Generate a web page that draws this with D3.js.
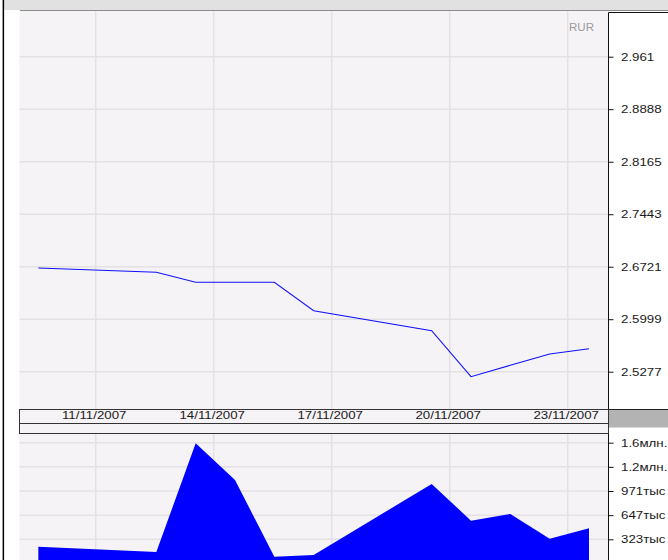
<!DOCTYPE html>
<html>
<head>
<meta charset="utf-8">
<script src="https://cdn.jsdelivr.net/npm/d3@7"></script>
<style>
html,body{margin:0;padding:0;background:#fff;}
svg{display:block;}
</style>
</head>
<body>
<script>
// ---- data ----
const dates = ["2007-11-09T13:00","2007-11-12T13:00","2007-11-13T13:00","2007-11-14T13:00","2007-11-15T13:00","2007-11-16T13:00","2007-11-19T13:00","2007-11-20T13:00","2007-11-21T13:00","2007-11-22T13:00","2007-11-23T13:00"];
const prices = [2.6703, 2.6644, 2.6507, 2.6507, 2.6507, 2.6116, 2.5841, 2.5208, 2.5365, 2.5520, 2.5593];
const volumes = [224000, 153000, 1610000, 1118000, 90000, 113000, 1065000, 573000, 663000, 332000, 471000];
const priceTicks = [2.5277, 2.5999, 2.6721, 2.7443, 2.8165, 2.8888, 2.961];
const priceTickLabels = ["2.5277", "2.5999", "2.6721", "2.7443", "2.8165", "2.8888", "2.961"];
const volumeTicks = [323500, 647000, 970500, 1294000, 1617500];
const volumeTickLabels = ["323тыс", "647тыс", "971тыс", "1.2млн.", "1.6млн."];
const dateTicks = ["2007-11-11", "2007-11-14", "2007-11-17", "2007-11-20", "2007-11-23"];
const currency = "RUR";

// ---- layout ----
const W = 668, H = 560;
const L = 19.5, R = 608.5;
const pTop = 10.5, pBot = 409.5;
const dBandMid = 423.5, dBandBot = 433.5;
const vTop = 433.5, vBot = 560;
const BG = "#f6f3f6", GRID = "#e4e1e4";
const FONT = "'Liberation Sans', Arial, sans-serif";
const SX = 1.33;

const parseT = d3.timeParse("%Y-%m-%dT%H:%M");
const parseD = d3.timeParse("%Y-%m-%d");
const data = dates.map((d, i) => ({t: parseT(d), p: prices[i], v: volumes[i]}));
const tickDates = dateTicks.map(parseD);

const svg = d3.select("body").append("svg").attr("width", W).attr("height", H);

// scales
const x = d3.scaleTime().domain([tickDates[0], tickDates[tickDates.length - 1]]).range([95.7, 567.7]);
const y = d3.scaleLinear().domain([priceTicks[0], priceTicks[priceTicks.length - 1]]).range([371.7, 56.7]);
const yv = d3.scaleLinear().domain([volumeTicks[0], volumeTicks[volumeTicks.length - 1]]).range([539.3, 442.7]);

// backgrounds
svg.append("rect").attr("x", 0).attr("y", 0).attr("width", W).attr("height", H).attr("fill", "#fff");
svg.append("rect").attr("x", 4).attr("y", 0).attr("width", W - 4).attr("height", 10).attr("fill", "#e1e1e1");
svg.append("rect").attr("x", L).attr("y", pTop).attr("width", R - L).attr("height", pBot - pTop).attr("fill", BG);
svg.append("rect").attr("x", L).attr("y", pBot).attr("width", R - L).attr("height", dBandBot - pBot).attr("fill", BG);
svg.append("rect").attr("x", L).attr("y", vTop).attr("width", R - L).attr("height", vBot - vTop).attr("fill", BG);

// clips
const defs = svg.append("defs");
defs.append("clipPath").attr("id", "cp").append("rect").attr("x", L).attr("y", pTop).attr("width", R - L).attr("height", pBot - pTop);
defs.append("clipPath").attr("id", "cv").append("rect").attr("x", L).attr("y", vTop).attr("width", R - L).attr("height", vBot - vTop);

// price grid
const gp = svg.append("g").attr("clip-path", "url(#cp)");
gp.selectAll("line.h").data(priceTicks).join("line")
  .attr("x1", L).attr("x2", R).attr("y1", d => y(d)).attr("y2", d => y(d))
  .attr("stroke", GRID).attr("stroke-width", 1.5);
gp.selectAll("line.v").data(tickDates).join("line")
  .attr("x1", d => x(d)).attr("x2", d => x(d)).attr("y1", pTop).attr("y2", pBot)
  .attr("stroke", GRID).attr("stroke-width", 1.5);

// price line
gp.append("path").datum(data)
  .attr("d", d3.line().x(d => x(d.t)).y(d => y(d.p)))
  .attr("fill", "none").attr("stroke", "#1010ff").attr("stroke-width", 1.1);

// currency
svg.append("text").attr("transform", "translate(594,31) scale(1.1,1)")
  .attr("text-anchor", "end").attr("font-family", FONT).attr("font-size", 10.5)
  .attr("fill", "#9a9a9a").text(currency);

// volume grid + area
const gv = svg.append("g").attr("clip-path", "url(#cv)");
gv.selectAll("line.h").data(volumeTicks).join("line")
  .attr("x1", L).attr("x2", R).attr("y1", d => yv(d)).attr("y2", d => yv(d))
  .attr("stroke", GRID).attr("stroke-width", 1.5);
gv.selectAll("line.v").data(tickDates).join("line")
  .attr("x1", d => x(d)).attr("x2", d => x(d)).attr("y1", vTop).attr("y2", vBot)
  .attr("stroke", GRID).attr("stroke-width", 1.5);
gv.append("path").datum(data)
  .attr("d", d3.area().x(d => x(d.t)).y0(yv(0)).y1(d => yv(d.v)))
  .attr("fill", "#0000ff").attr("stroke", "none");

// top gray line
svg.append("line").attr("x1", 20).attr("x2", W).attr("y1", 10.5).attr("y2", 10.5)
  .attr("stroke", "#8c8c8c").attr("stroke-width", 1);

// right panel
svg.append("rect").attr("x", R).attr("y", 12.5).attr("width", W - R).attr("height", H - 12.5).attr("fill", "#fff");
svg.append("rect").attr("x", R + 0.5).attr("y", pBot).attr("width", W - R).attr("height", 18).attr("fill", "#b3b3b3");
svg.append("line").attr("x1", R).attr("x2", W).attr("y1", 12.5).attr("y2", 12.5).attr("stroke", "#111");
svg.append("line").attr("x1", R).attr("x2", R).attr("y1", 12.5).attr("y2", H).attr("stroke", "#111");
svg.append("line").attr("x1", R).attr("x2", W).attr("y1", pBot).attr("y2", pBot).attr("stroke", "#222");

// date band box
svg.append("rect").attr("x", L).attr("y", pBot).attr("width", R - L).attr("height", dBandBot - pBot)
  .attr("fill", "none").attr("stroke", "#333");
svg.append("line").attr("x1", L).attr("x2", R).attr("y1", dBandMid).attr("y2", dBandMid).attr("stroke", "#333");

// left black border
svg.append("rect").attr("x", 2.6).attr("y", 0).attr("width", 1.5).attr("height", H).attr("fill", "#000");

// axes
function styleRight(g, labels) {
  g.select(".domain").remove();
  g.selectAll(".tick line").attr("stroke", "#111");
  g.selectAll(".tick text")
    .attr("x", null).attr("dy", null)
    .attr("transform", `translate(12.5,3.6) scale(${SX},1)`)
    .attr("text-anchor", "start")
    .attr("font-family", FONT).attr("font-size", 10).attr("fill", "#1a1a1a")
    .text((d, i) => labels[i]);
}
svg.append("g").attr("transform", `translate(${R},0)`)
  .call(d3.axisRight(y).tickValues(priceTicks).tickSize(5))
  .call(g => styleRight(g, priceTickLabels));
svg.append("g").attr("transform", `translate(${R},0)`)
  .call(d3.axisRight(yv).tickValues(volumeTicks).tickSize(5))
  .call(g => styleRight(g, volumeTickLabels));

const fmt = d3.timeFormat("%d/%m/%Y");
svg.append("g").attr("transform", `translate(0,${pBot})`)
  .call(d3.axisBottom(x).tickValues(tickDates).tickSize(0).tickFormat(fmt))
  .call(g => {
    g.select(".domain").remove();
    g.selectAll(".tick text")
      .attr("y", null).attr("dy", null)
      .attr("transform", `translate(-2,9) scale(${SX},1)`)
      .attr("text-anchor", "middle")
      .attr("font-family", FONT).attr("font-size", 10).attr("fill", "#1a1a1a");
  });
</script>
</body>
</html>
